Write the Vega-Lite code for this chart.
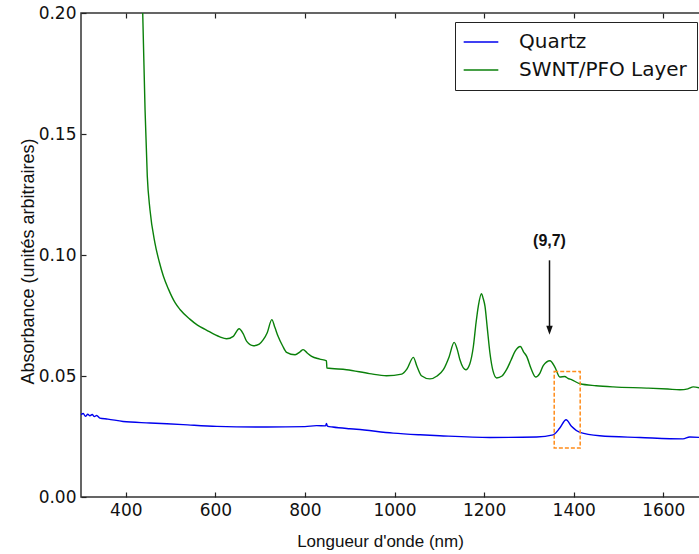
{
  "$schema": "https://vega.github.io/schema/vega-lite/v6.json",
  "width": 619,
  "height": 484,
  "autosize": "none",
  "padding": {"left": 81, "top": 13, "right": 0, "bottom": 57},
  "background": "white",
  "config": {
    "view": {"stroke": "#333", "strokeWidth": 1.5},
    "axis": {
      "grid": false,
      "domain": false,
      "offset": -5,
      "tickSize": 5,
      "tickColor": "#222",
      "tickWidth": 1.2,
      "labelPadding": 5,
      "labelFont": "DejaVu Sans",
      "labelFontSize": 17,
      "labelColor": "#111",
      "titleFont": "Liberation Sans",
      "titleFontSize": 17,
      "titleFontWeight": "normal",
      "titleColor": "#111"
    }
  },
  "datasets": {
    "spectra": [
      {"s": "SWNT/PFO Layer", "nm": 432, "a": 0.235},
      {"s": "SWNT/PFO Layer", "nm": 437.7, "a": 0.2007},
      {"s": "SWNT/PFO Layer", "nm": 443, "a": 0.160},
      {"s": "SWNT/PFO Layer", "nm": 448, "a": 0.1325},
      {"s": "SWNT/PFO Layer", "nm": 454, "a": 0.1187},
      {"s": "SWNT/PFO Layer", "nm": 465, "a": 0.105},
      {"s": "SWNT/PFO Layer", "nm": 475, "a": 0.097},
      {"s": "SWNT/PFO Layer", "nm": 484, "a": 0.0912},
      {"s": "SWNT/PFO Layer", "nm": 495, "a": 0.086},
      {"s": "SWNT/PFO Layer", "nm": 510, "a": 0.0803},
      {"s": "SWNT/PFO Layer", "nm": 521, "a": 0.0775},
      {"s": "SWNT/PFO Layer", "nm": 543, "a": 0.0735},
      {"s": "SWNT/PFO Layer", "nm": 560, "a": 0.071},
      {"s": "SWNT/PFO Layer", "nm": 580, "a": 0.069},
      {"s": "SWNT/PFO Layer", "nm": 600, "a": 0.067},
      {"s": "SWNT/PFO Layer", "nm": 610, "a": 0.0662},
      {"s": "SWNT/PFO Layer", "nm": 625, "a": 0.0654},
      {"s": "SWNT/PFO Layer", "nm": 640, "a": 0.0664},
      {"s": "SWNT/PFO Layer", "nm": 653, "a": 0.0695},
      {"s": "SWNT/PFO Layer", "nm": 662, "a": 0.0675},
      {"s": "SWNT/PFO Layer", "nm": 670, "a": 0.0643},
      {"s": "SWNT/PFO Layer", "nm": 685, "a": 0.0625},
      {"s": "SWNT/PFO Layer", "nm": 698, "a": 0.0632},
      {"s": "SWNT/PFO Layer", "nm": 707, "a": 0.065},
      {"s": "SWNT/PFO Layer", "nm": 716, "a": 0.068},
      {"s": "SWNT/PFO Layer", "nm": 726, "a": 0.0733},
      {"s": "SWNT/PFO Layer", "nm": 733, "a": 0.07},
      {"s": "SWNT/PFO Layer", "nm": 740, "a": 0.0664},
      {"s": "SWNT/PFO Layer", "nm": 750, "a": 0.0625},
      {"s": "SWNT/PFO Layer", "nm": 759, "a": 0.0598},
      {"s": "SWNT/PFO Layer", "nm": 778, "a": 0.0588},
      {"s": "SWNT/PFO Layer", "nm": 789, "a": 0.06},
      {"s": "SWNT/PFO Layer", "nm": 796, "a": 0.0609},
      {"s": "SWNT/PFO Layer", "nm": 805, "a": 0.0595},
      {"s": "SWNT/PFO Layer", "nm": 815, "a": 0.0581},
      {"s": "SWNT/PFO Layer", "nm": 833, "a": 0.057},
      {"s": "SWNT/PFO Layer", "nm": 848, "a": 0.0563},
      {"s": "SWNT/PFO Layer", "nm": 849, "a": 0.0533},
      {"s": "SWNT/PFO Layer", "nm": 893, "a": 0.0526},
      {"s": "SWNT/PFO Layer", "nm": 944, "a": 0.051},
      {"s": "SWNT/PFO Layer", "nm": 982, "a": 0.0501},
      {"s": "SWNT/PFO Layer", "nm": 1016, "a": 0.0508},
      {"s": "SWNT/PFO Layer", "nm": 1028, "a": 0.053},
      {"s": "SWNT/PFO Layer", "nm": 1042, "a": 0.0577},
      {"s": "SWNT/PFO Layer", "nm": 1050, "a": 0.054},
      {"s": "SWNT/PFO Layer", "nm": 1060, "a": 0.0501},
      {"s": "SWNT/PFO Layer", "nm": 1079, "a": 0.0488},
      {"s": "SWNT/PFO Layer", "nm": 1095, "a": 0.05},
      {"s": "SWNT/PFO Layer", "nm": 1109, "a": 0.0526},
      {"s": "SWNT/PFO Layer", "nm": 1122, "a": 0.058},
      {"s": "SWNT/PFO Layer", "nm": 1133, "a": 0.0639},
      {"s": "SWNT/PFO Layer", "nm": 1140, "a": 0.061},
      {"s": "SWNT/PFO Layer", "nm": 1146, "a": 0.0567},
      {"s": "SWNT/PFO Layer", "nm": 1159, "a": 0.0526},
      {"s": "SWNT/PFO Layer", "nm": 1168, "a": 0.055},
      {"s": "SWNT/PFO Layer", "nm": 1176, "a": 0.0622},
      {"s": "SWNT/PFO Layer", "nm": 1182, "a": 0.072},
      {"s": "SWNT/PFO Layer", "nm": 1187, "a": 0.0788},
      {"s": "SWNT/PFO Layer", "nm": 1194, "a": 0.084},
      {"s": "SWNT/PFO Layer", "nm": 1198, "a": 0.082},
      {"s": "SWNT/PFO Layer", "nm": 1202, "a": 0.0788},
      {"s": "SWNT/PFO Layer", "nm": 1207, "a": 0.07},
      {"s": "SWNT/PFO Layer", "nm": 1213, "a": 0.0595},
      {"s": "SWNT/PFO Layer", "nm": 1220, "a": 0.052},
      {"s": "SWNT/PFO Layer", "nm": 1228, "a": 0.0492},
      {"s": "SWNT/PFO Layer", "nm": 1240, "a": 0.05},
      {"s": "SWNT/PFO Layer", "nm": 1250, "a": 0.0526},
      {"s": "SWNT/PFO Layer", "nm": 1260, "a": 0.0565},
      {"s": "SWNT/PFO Layer", "nm": 1269, "a": 0.0602},
      {"s": "SWNT/PFO Layer", "nm": 1281, "a": 0.0622},
      {"s": "SWNT/PFO Layer", "nm": 1288, "a": 0.06},
      {"s": "SWNT/PFO Layer", "nm": 1295, "a": 0.0581},
      {"s": "SWNT/PFO Layer", "nm": 1305, "a": 0.053},
      {"s": "SWNT/PFO Layer", "nm": 1315, "a": 0.0496},
      {"s": "SWNT/PFO Layer", "nm": 1324, "a": 0.051},
      {"s": "SWNT/PFO Layer", "nm": 1332, "a": 0.0543},
      {"s": "SWNT/PFO Layer", "nm": 1347, "a": 0.0563},
      {"s": "SWNT/PFO Layer", "nm": 1358, "a": 0.0537},
      {"s": "SWNT/PFO Layer", "nm": 1369, "a": 0.0496},
      {"s": "SWNT/PFO Layer", "nm": 1380, "a": 0.0498},
      {"s": "SWNT/PFO Layer", "nm": 1387, "a": 0.049},
      {"s": "SWNT/PFO Layer", "nm": 1395, "a": 0.0485},
      {"s": "SWNT/PFO Layer", "nm": 1414, "a": 0.0468},
      {"s": "SWNT/PFO Layer", "nm": 1450, "a": 0.046},
      {"s": "SWNT/PFO Layer", "nm": 1488, "a": 0.0455},
      {"s": "SWNT/PFO Layer", "nm": 1563, "a": 0.045},
      {"s": "SWNT/PFO Layer", "nm": 1610, "a": 0.0446},
      {"s": "SWNT/PFO Layer", "nm": 1637, "a": 0.0443},
      {"s": "SWNT/PFO Layer", "nm": 1655, "a": 0.0447},
      {"s": "SWNT/PFO Layer", "nm": 1667, "a": 0.0455},
      {"s": "SWNT/PFO Layer", "nm": 1682, "a": 0.045},
      {"s": "Quartz", "nm": 300, "a": 0.034},
      {"s": "Quartz", "nm": 305, "a": 0.0345},
      {"s": "Quartz", "nm": 310, "a": 0.0333},
      {"s": "Quartz", "nm": 315, "a": 0.0342},
      {"s": "Quartz", "nm": 320, "a": 0.0336},
      {"s": "Quartz", "nm": 325, "a": 0.0341},
      {"s": "Quartz", "nm": 330, "a": 0.0332},
      {"s": "Quartz", "nm": 335, "a": 0.0337},
      {"s": "Quartz", "nm": 342, "a": 0.0326},
      {"s": "Quartz", "nm": 360, "a": 0.0322},
      {"s": "Quartz", "nm": 394, "a": 0.0312},
      {"s": "Quartz", "nm": 454, "a": 0.0306},
      {"s": "Quartz", "nm": 528, "a": 0.0299},
      {"s": "Quartz", "nm": 603, "a": 0.0292},
      {"s": "Quartz", "nm": 715, "a": 0.0289},
      {"s": "Quartz", "nm": 800, "a": 0.0291},
      {"s": "Quartz", "nm": 826, "a": 0.0295},
      {"s": "Quartz", "nm": 846, "a": 0.0294},
      {"s": "Quartz", "nm": 848, "a": 0.0304},
      {"s": "Quartz", "nm": 850, "a": 0.0293},
      {"s": "Quartz", "nm": 862, "a": 0.0289},
      {"s": "Quartz", "nm": 900, "a": 0.0282},
      {"s": "Quartz", "nm": 915, "a": 0.028},
      {"s": "Quartz", "nm": 997, "a": 0.0264},
      {"s": "Quartz", "nm": 1057, "a": 0.0257},
      {"s": "Quartz", "nm": 1101, "a": 0.0253},
      {"s": "Quartz", "nm": 1213, "a": 0.0246},
      {"s": "Quartz", "nm": 1317, "a": 0.0248},
      {"s": "Quartz", "nm": 1354, "a": 0.0257},
      {"s": "Quartz", "nm": 1369, "a": 0.0285},
      {"s": "Quartz", "nm": 1383, "a": 0.0319},
      {"s": "Quartz", "nm": 1395, "a": 0.0292},
      {"s": "Quartz", "nm": 1414, "a": 0.0267},
      {"s": "Quartz", "nm": 1458, "a": 0.0253},
      {"s": "Quartz", "nm": 1548, "a": 0.0246},
      {"s": "Quartz", "nm": 1644, "a": 0.024},
      {"s": "Quartz", "nm": 1659, "a": 0.0248},
      {"s": "Quartz", "nm": 1682, "a": 0.0246}
    ],
    "box": [{"x1": 1356.5, "x2": 1414.5, "y1": 0.0202, "y2": 0.0519}],
    "arrow": [{"x": 1346, "y1": 0.0978, "y2": 0.0705, "head": 0.0689, "ty": 0.1056, "label": "(9,7)"}]
  },
  "layer": [
    {
      "layer": [
        {
          "data": {"name": "spectra"},
          "mark": {"type": "line", "clip": true, "strokeWidth": 1.4, "interpolate": "monotone"},
          "encoding": {
            "x": {
              "field": "nm", "type": "quantitative",
              "scale": {"domain": [300, 1682], "nice": false, "zero": false},
              "axis": {"orient": "bottom", "values": [400, 600, 800, 1000, 1200, 1400, 1600], "format": "d", "title": "Longueur d'onde (nm)", "titleX": 299, "titleY": 54, "titleBaseline": "alphabetic"}
            },
            "y": {
              "field": "a", "type": "quantitative",
              "scale": {"domain": [0, 0.2], "nice": false, "zero": false},
              "axis": {"orient": "left", "values": [0, 0.05, 0.1, 0.15, 0.2], "format": ".2f", "title": "Absorbance (unités arbitraires)", "titleFontSize": 18, "titleX": -53, "titleY": 248, "titleBaseline": "alphabetic", "titleAngle": -90, "titleAlign": "center"}
            },
            "color": {
              "field": "s", "type": "nominal",
              "scale": {"domain": ["Quartz", "SWNT/PFO Layer"], "range": ["#0000ee", "#0a800a"]},
              "legend": {
                "title": null, "orient": "none", "legendX": 374, "legendY": 9,
                "strokeColor": "#222", "fillColor": "white", "padding": 10, "cornerRadius": 0,
                "symbolType": "M-2,0L2,0", "symbolSize": 300, "symbolStrokeWidth": 1.5, "symbolOffset": 6,
                "labelFont": "DejaVu Sans", "labelFontSize": 20, "labelColor": "#111",
                "labelOffset": 28, "rowPadding": 8, "labelLimit": 400
              }
            }
          }
        },
        {
          "data": {"name": "arrow"},
          "mark": {"type": "rule", "color": "#111", "strokeWidth": 1.5},
          "encoding": {
            "x": {"field": "x", "type": "quantitative"},
            "y": {"field": "y1", "type": "quantitative"},
            "y2": {"field": "y2"}
          }
        },
        {
          "data": {"name": "arrow"},
          "mark": {"type": "point", "shape": "M-0.72,-1L0.72,-1L0,1Z", "size": 81, "filled": true, "color": "#111", "opacity": 1},
          "encoding": {
            "x": {"field": "x", "type": "quantitative"},
            "y": {"field": "head", "type": "quantitative"}
          }
        },
        {
          "data": {"name": "arrow"},
          "mark": {"type": "text", "font": "Liberation Sans", "fontWeight": "bold", "fontSize": 16, "color": "#111", "baseline": "middle", "align": "center"},
          "encoding": {
            "x": {"field": "x", "type": "quantitative"},
            "y": {"field": "ty", "type": "quantitative"},
            "text": {"field": "label"}
          }
        }
      ]
    },
    {
      "data": {"name": "box"},
      "mark": {"type": "rect", "fill": null, "fillOpacity": 0, "stroke": "#ff8c1a", "strokeWidth": 1.5, "strokeDash": [4, 2]},
      "encoding": {
        "x": {"field": "x1", "type": "quantitative", "axis": {"orient": "top", "labels": false, "title": null, "values": [400, 600, 800, 1000, 1200, 1400, 1600]}},
        "x2": {"field": "x2"},
        "y": {"field": "y1", "type": "quantitative"},
        "y2": {"field": "y2"}
      }
    }
  ]
}
